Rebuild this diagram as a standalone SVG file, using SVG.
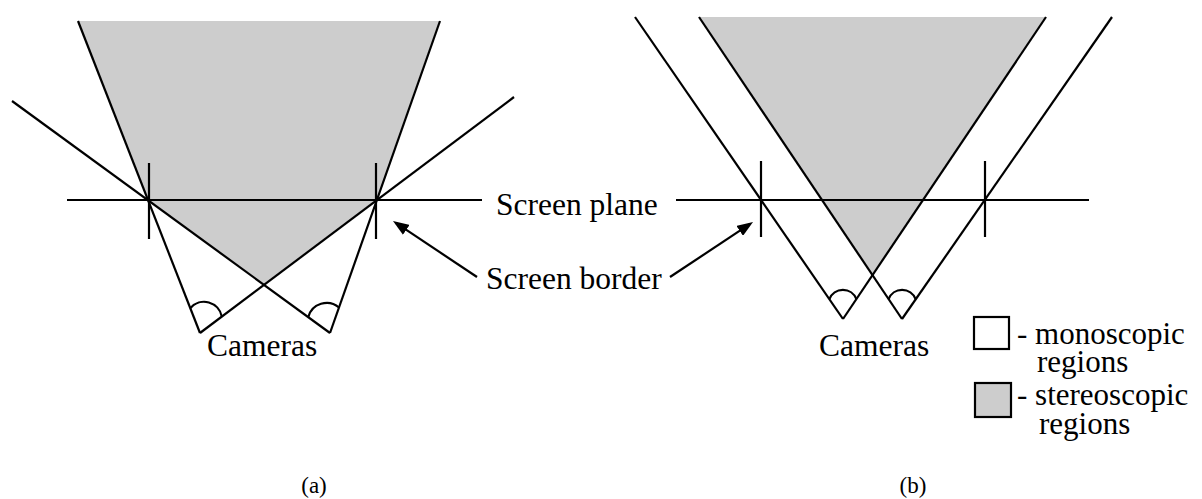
<svg xmlns="http://www.w3.org/2000/svg" width="1202" height="499" viewBox="0 0 1202 499">
<style>
.ln{stroke:#000;stroke-width:2.2;fill:none}
.sh{fill:#cdcdcd;stroke:none}
.t{font-family:"Liberation Serif","Times New Roman",serif;font-size:31.5px;fill:#000}
.lg{font-family:"Liberation Serif","Times New Roman",serif;font-size:31px;fill:#000}
.cap{font-family:"Liberation Serif","Times New Roman",serif;font-size:23px;fill:#000;text-anchor:middle}
</style>
<defs>
<marker id="ah" markerUnits="userSpaceOnUse" markerWidth="16" markerHeight="12" refX="12" refY="6" orient="auto">
<path d="M0,0 L16,6 L0,12 z" fill="#000"/>
</marker>
</defs>
<rect width="1202" height="499" fill="#fff"/>

<g id="diagram-a">
<polygon class="sh" points="78,21 440,21 377,200 264,285 148,200"/>
<g id="a-lines">
<line class="ln" x1="200" y1="333" x2="78" y2="21"/>
<line class="ln" x1="330" y1="333" x2="440" y2="21"/>
<line class="ln" x1="200" y1="333" x2="514" y2="97"/>
<line class="ln" x1="330" y1="333" x2="12" y2="101"/>
<line class="ln" x1="67" y1="200" x2="482" y2="200"/>
<line class="ln" x1="149" y1="163" x2="149" y2="239"/>
<line class="ln" x1="376" y1="163" x2="376" y2="239"/>
</g>
<g id="a-cameras">
<path class="ln" d="M190.5,308 A18,18 0 0 1 221.8,316.6"/>
<path class="ln" d="M308.3,317 A19,19 0 0 1 339,307.5"/>
</g>
<text class="t" x="207" y="356">Cameras</text>
<text class="cap" x="314" y="493">(a)</text>
</g>

<g id="diagram-b">
<polygon class="sh" points="699,17 1046,17 872.5,275"/>
<g id="b-lines">
<line class="ln" x1="843" y1="319" x2="635" y2="17"/>
<line class="ln" x1="902" y1="319" x2="1112" y2="17"/>
<line class="ln" x1="843" y1="319" x2="1046" y2="17"/>
<line class="ln" x1="902" y1="319" x2="699" y2="17"/>
<line class="ln" x1="676" y1="200" x2="1089" y2="200"/>
<line class="ln" x1="761" y1="161" x2="761" y2="237"/>
<line class="ln" x1="985" y1="161" x2="985" y2="237"/>
</g>
<g id="b-cameras">
<path class="ln" d="M829.4,299.2 A14.5,14.5 0 0 1 856.4,299.1"/>
<path class="ln" d="M888.6,299.1 A14.5,14.5 0 0 1 915.6,299.2"/>
</g>
<text class="t" x="819" y="356">Cameras</text>
<text class="cap" x="913" y="493">(b)</text>
</g>

<g id="labels">
<text class="t" x="496" y="215">Screen plane</text>
<text class="t" x="486" y="289">Screen border</text>
</g>

<g id="connectors">
<line class="ln" x1="477" y1="277" x2="396.3" y2="223.2" marker-end="url(#ah)"/>
<line class="ln" x1="670" y1="277" x2="749.7" y2="224.2" marker-end="url(#ah)"/>
</g>

<g id="legend">
<g id="legend-mono">
<rect x="974" y="317" width="35" height="32" fill="#fff" stroke="#000" stroke-width="2.2"/>
<text class="lg" x="1017" y="344">- monoscopic</text>
<text class="lg" x="1037" y="372">regions</text>
</g>
<g id="legend-stereo">
<rect x="975" y="383" width="36" height="34" fill="#cdcdcd" stroke="#000" stroke-width="2.2"/>
<text class="lg" x="1017" y="405">- stereoscopic</text>
<text class="lg" x="1039" y="434">regions</text>
</g>
</g>
</svg>
